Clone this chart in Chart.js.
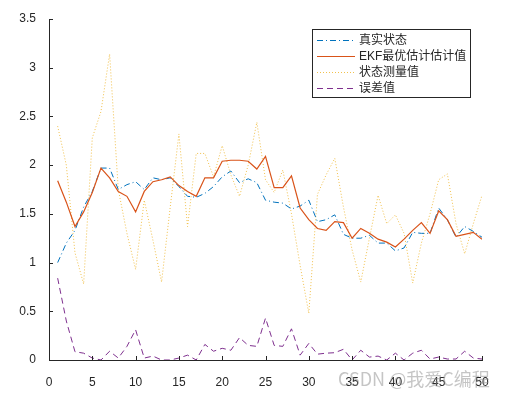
<!DOCTYPE html>
<html lang="zh">
<head>
<meta charset="utf-8">
<title>EKF 估计</title>
<script src="https://cdn.jsdelivr.net/npm/chart.js@4.4.1/dist/chart.umd.min.js"></script>
<style>
  html, body { margin: 0; padding: 0; background: #fff; }
  .wrap { position: relative; width: 514px; height: 394px; }
  .mark {
    position: absolute; left: 338px; top: 365px;
    font: 18px 'Noto Sans CJK SC', sans-serif;
    color: rgba(140, 140, 140, 0.5);
    white-space: nowrap;
  }
</style>
</head>
<body>
<div class="wrap">
  <canvas id="c" width="514" height="394"></canvas>
  <div class="mark">CSDN @我爱C编程</div>
</div>
<script>
// time steps
const steps = [1, 2, 3, 4, 5, 6, 7, 8, 9, 10, 11, 12, 13, 14, 15, 16, 17, 18, 19, 20,
  21, 22, 23, 24, 25, 26, 27, 28, 29, 30, 31, 32, 33, 34, 35, 36, 37, 38, 39, 40,
  41, 42, 43, 44, 45, 46, 47, 48, 49, 50];

// 真实状态
const trueState = [1.00, 1.20, 1.33, 1.57, 1.73, 1.97, 1.97, 1.75, 1.80, 1.83,
  1.75, 1.87, 1.85, 1.87, 1.78, 1.68, 1.67, 1.71, 1.78, 1.88,
  1.94, 1.82, 1.86, 1.82, 1.64, 1.62, 1.61, 1.55, 1.58, 1.64,
  1.42, 1.44, 1.49, 1.29, 1.25, 1.25, 1.28, 1.20, 1.20, 1.12,
  1.15, 1.31, 1.30, 1.30, 1.56, 1.44, 1.26, 1.37, 1.32, 1.26];

// EKF最优估计估计值
const ekfEst = [1.84, 1.62, 1.37, 1.52, 1.72, 1.97, 1.87, 1.73, 1.68, 1.52,
  1.73, 1.83, 1.85, 1.88, 1.79, 1.73, 1.68, 1.87, 1.87, 2.04,
  2.05, 2.05, 2.04, 1.96, 2.09, 1.77, 1.77, 1.89, 1.56, 1.44,
  1.35, 1.33, 1.42, 1.41, 1.25, 1.35, 1.30, 1.24, 1.21, 1.16,
  1.24, 1.33, 1.41, 1.30, 1.53, 1.44, 1.27, 1.29, 1.31, 1.24];

// 状态测量值
const measured = [2.40, 2.00, 1.10, 0.78, 2.28, 2.55, 3.14, 1.75, 1.30, 0.93,
  1.64, 1.23, 0.80, 1.57, 2.32, 1.37, 2.12, 2.12, 1.88, 2.20,
  1.90, 1.68, 2.00, 2.44, 1.85, 1.72, 1.95, 1.50, 0.97, 0.48,
  1.70, 1.90, 2.07, 1.57, 1.13, 0.80, 1.25, 1.69, 1.40, 1.49,
  1.30, 0.79, 1.20, 1.50, 1.85, 1.91, 1.40, 1.09, 1.40, 1.69];

// 误差值
const errVal = [0.84, 0.40, 0.085, 0.07, 0.02, 0.00, 0.09, 0.02, 0.14, 0.31,
  0.02, 0.04, 0.00, 0.00, 0.02, 0.05, 0.00, 0.16, 0.09, 0.12,
  0.10, 0.23, 0.15, 0.14, 0.43, 0.15, 0.14, 0.32, 0.05, 0.17,
  0.06, 0.07, 0.075, 0.11, 0.00, 0.10, 0.03, 0.04, 0.00, 0.07,
  0.00, 0.07, 0.10, 0.01, 0.03, 0.01, 0.01, 0.09, 0.02, 0.01];

const xTicks = [0, 5, 10, 15, 20, 25, 30, 35, 40, 45, 50];
const yTicks = [0, 0.5, 1, 1.5, 2, 2.5, 3, 3.5];

const seriesNames = ['真实状态', 'EKF最优估计估计值', '状态测量值', '误差值'];
const seriesColors = ['#0072BD', '#D95319', 'rgba(237,177,32,0.8)', '#7E2F8E'];
const seriesDash = [[6, 3, 1, 3], [], [1, 2], [6, 4]];
const seriesValues = [trueState, ekfEst, measured, errVal];

const axisColor = '#262626';
const font = { family: "'Liberation Sans', Arial, sans-serif", size: 12 };

// MATLAB style ticks pointing into the plot
const innerTicks = {
  id: 'innerTicks',
  afterDatasetsDraw(chart) {
    const { ctx, chartArea: a, scales: { x, y } } = chart;
    ctx.save();
    ctx.strokeStyle = axisColor;
    ctx.lineWidth = 1;
    ctx.beginPath();
    x.ticks.forEach(t => {
      const px = Math.round(x.getPixelForValue(t.value)) + 0.5;
      ctx.moveTo(px, a.bottom);
      ctx.lineTo(px, a.bottom - 4);
    });
    y.ticks.forEach(t => {
      const py = Math.round(y.getPixelForValue(t.value)) + 0.5;
      ctx.moveTo(a.left, py);
      ctx.lineTo(a.left + 4, py);
    });
    ctx.stroke();
    ctx.restore();
  }
};

// boxed legend in the upper right
const boxLegend = {
  id: 'boxLegend',
  afterDraw(chart) {
    const ctx = chart.ctx;
    const bx = 312.5, by = 29.5, bw = 158, bh = 68;
    ctx.save();
    ctx.fillStyle = '#fff';
    ctx.fillRect(bx, by, bw, bh);
    ctx.strokeStyle = axisColor;
    ctx.lineWidth = 1;
    ctx.strokeRect(bx, by, bw, bh);
    const rows = [40.5, 56.5, 72.5, 88.5];
    ctx.font = `12px 'Liberation Sans', 'Noto Sans CJK SC', sans-serif`;
    ctx.textBaseline = 'middle';
    seriesNames.forEach((name, i) => {
      ctx.strokeStyle = seriesColors[i];
      ctx.setLineDash(seriesDash[i]);
      ctx.beginPath();
      ctx.moveTo(317, rows[i]);
      ctx.lineTo(355, rows[i]);
      ctx.stroke();
      ctx.setLineDash([]);
      ctx.fillStyle = axisColor;
      ctx.fillText(name, 359, rows[i]);
    });
    ctx.restore();
  }
};

new Chart(document.getElementById('c'), {
  type: 'line',
  data: {
    datasets: seriesValues.map((vals, i) => ({
      label: seriesNames[i],
      data: vals.map((v, k) => ({ x: steps[k], y: v })),
      borderColor: seriesColors[i],
      borderDash: seriesDash[i],
      borderWidth: i === 1 ? 1.2 : 1,
      pointRadius: 0,
      tension: 0,
      fill: false,
      order: [2, 1, 3, 0][i]
    }))
  },
  options: {
    responsive: false,
    animation: false,
    layout: { padding: { left: 0, top: 19, right: 32, bottom: 0 } },
    plugins: { legend: { display: false }, tooltip: { enabled: false } },
    scales: {
      x: {
        type: 'linear',
        min: 0,
        max: 50,
        afterBuildTicks: s => { s.ticks = xTicks.map(v => ({ value: v })); },
        afterFit: s => { s.height = 34; },
        grid: { display: false },
        border: { display: true, color: axisColor, width: 1 },
        ticks: { color: axisColor, font, padding: 7, maxRotation: 0, autoSkip: false, callback: v => String(v) }
      },
      y: {
        type: 'linear',
        min: 0,
        max: 3.5,
        afterBuildTicks: s => { s.ticks = yTicks.map(v => ({ value: v })); },
        afterFit: s => { s.width = 49; },
        grid: { display: false },
        border: { display: true, color: axisColor, width: 1 },
        ticks: { color: axisColor, font, padding: 5, autoSkip: false, callback: v => String(v) }
      }
    }
  },
  plugins: [innerTicks, boxLegend]
});
</script>
</body>
</html>
